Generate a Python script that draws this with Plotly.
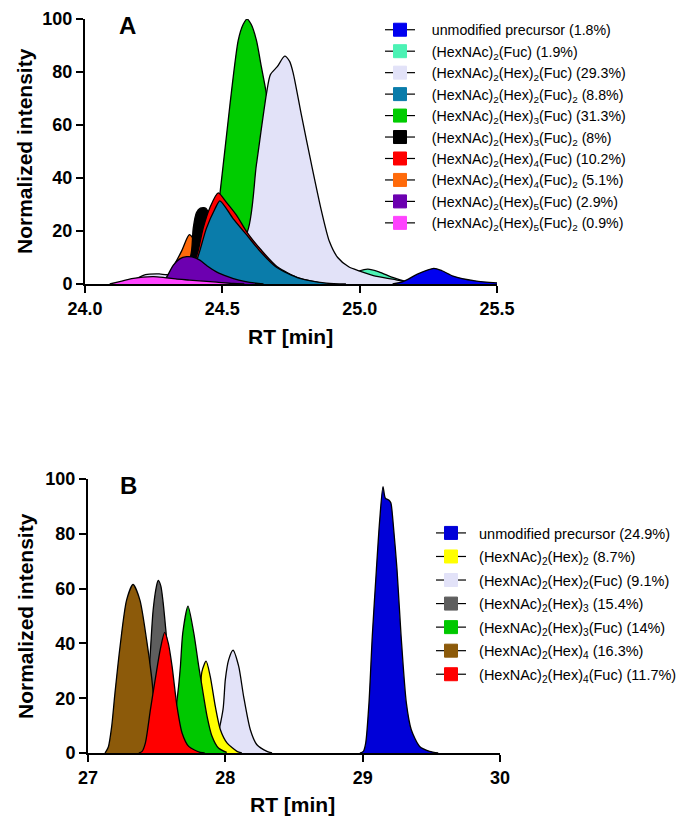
import plotly.graph_objects as go

# ---------------- Panel A data (RT in min, normalized intensity) ----------------
a_names = [
    "unmodified precursor (1.8%)",
    "(HexNAc)<sub>2</sub>(Fuc) (1.9%)",
    "(HexNAc)<sub>2</sub>(Hex)<sub>2</sub>(Fuc) (29.3%)",
    "(HexNAc)<sub>2</sub>(Hex)<sub>2</sub>(Fuc)<sub>2</sub> (8.8%)",
    "(HexNAc)<sub>2</sub>(Hex)<sub>3</sub>(Fuc) (31.3%)",
    "(HexNAc)<sub>2</sub>(Hex)<sub>3</sub>(Fuc)<sub>2</sub> (8%)",
    "(HexNAc)<sub>2</sub>(Hex)<sub>4</sub>(Fuc) (10.2%)",
    "(HexNAc)<sub>2</sub>(Hex)<sub>4</sub>(Fuc)<sub>2</sub> (5.1%)",
    "(HexNAc)<sub>2</sub>(Hex)<sub>5</sub>(Fuc) (2.9%)",
    "(HexNAc)<sub>2</sub>(Hex)<sub>5</sub>(Fuc)<sub>2</sub> (0.9%)",
]
a_colors = ["#0000F0", "#4CF2B4", "#E2E2F8", "#0A7CAA", "#00CC00",
            "#000000", "#FF0000", "#FF6A0A", "#6C00B0", "#FF44FF"]

a_unmod_x = [25.12, 25.16, 25.21, 25.27, 25.30, 25.34, 25.42, 25.50]
a_unmod_y = [0, 1.0, 3.7, 5.9, 5.0, 3.0, 1.2, 0.4]
a_fuc_x = [24.88, 24.95, 25.0, 25.03, 25.07, 25.12, 25.17, 25.22]
a_fuc_y = [0, 2.5, 5.0, 5.6, 4.6, 2.5, 0.9, 0]
a_h2f_x = [24.15, 24.22, 24.27, 24.30, 24.40, 24.50, 24.588, 24.624, 24.661, 24.675,
           24.70, 24.727, 24.745, 24.758, 24.788, 24.824, 24.86, 24.89, 24.92, 24.96,
           25.0, 25.05, 25.12, 25.18, 25.25]
a_h2f_y = [0, 3.5, 3.8, 3.5, 6, 12, 19, 45, 72, 79, 82, 86, 84, 79.6, 63.7, 45.4,
           28, 16, 10, 6.5, 4.9, 3.2, 1.8, 0.6, 0]
a_h2f2_x = [24.38, 24.418, 24.442, 24.473, 24.491, 24.539, 24.588, 24.636, 24.697,
            24.782, 24.879, 24.95]
a_h2f2_y = [0, 12.5, 21, 28.3, 31.4, 24.7, 18.6, 12.5, 6.3, 2.1, 0.3, 0]
a_h3f_x = [24.40, 24.46, 24.493, 24.527, 24.558, 24.576, 24.59, 24.605, 24.624,
           24.642, 24.66, 24.70, 24.75, 24.80]
a_h3f_y = [0, 10, 35.6, 67, 92, 98, 100, 98, 92, 82, 72, 40, 12, 0]
a_h3f2_x = [24.34, 24.37, 24.388, 24.394, 24.406, 24.42, 24.44, 24.46, 24.48, 24.52]
a_h3f2_y = [0, 5, 12.5, 21, 27, 28.6, 28.6, 24, 15, 3]
a_h4f_x = [24.36, 24.40, 24.412, 24.43, 24.455, 24.485, 24.515, 24.552, 24.59,
           24.64, 24.70, 24.78, 24.88]
a_h4f_y = [0, 8.8, 12.5, 21, 28.9, 34.4, 30.8, 25.9, 19.5, 13, 6.5, 2.2, 0]
a_h4f2_x = [24.28, 24.303, 24.327, 24.352, 24.38, 24.40, 24.42, 24.45, 24.48]
a_h4f2_y = [0, 3.3, 7.6, 12.5, 18.6, 16, 10, 4, 0]
a_h5f_x = [24.28, 24.297, 24.321, 24.345, 24.37, 24.39, 24.418, 24.445, 24.48,
           24.52, 24.56, 24.60, 24.65]
a_h5f_y = [0, 2.5, 7.0, 9.5, 10.3, 10.2, 9, 6.8, 4.5, 2.8, 1.5, 0.6, 0]
a_h5f2_x = [24.09, 24.13, 24.17, 24.21, 24.25, 24.29, 24.33, 24.38, 24.43, 24.48,
            24.54, 24.58]
a_h5f2_y = [0, 1.0, 2.0, 2.6, 2.8, 2.4, 1.9, 1.5, 1.1, 0.7, 0.2, 0]

a_series_x = [a_unmod_x, a_fuc_x, a_h2f_x, a_h2f2_x, a_h3f_x, a_h3f2_x, a_h4f_x,
              a_h4f2_x, a_h5f_x, a_h5f2_x]
a_series_y = [a_unmod_y, a_fuc_y, a_h2f_y, a_h2f2_y, a_h3f_y, a_h3f2_y, a_h4f_y,
              a_h4f2_y, a_h5f_y, a_h5f2_y]
# back-to-front drawing order (indices into the lists above)
a_draw_order = [1, 4, 2, 7, 5, 6, 3, 8, 9, 0]

# ---------------- Panel B data ----------------
b_names = [
    "unmodified precursor (24.9%)",
    "(HexNAc)<sub>2</sub>(Hex)<sub>2</sub> (8.7%)",
    "(HexNAc)<sub>2</sub>(Hex)<sub>2</sub>(Fuc) (9.1%)",
    "(HexNAc)<sub>2</sub>(Hex)<sub>3</sub> (15.4%)",
    "(HexNAc)<sub>2</sub>(Hex)<sub>3</sub>(Fuc) (14%)",
    "(HexNAc)<sub>2</sub>(Hex)<sub>4</sub> (16.3%)",
    "(HexNAc)<sub>2</sub>(Hex)<sub>4</sub>(Fuc) (11.7%)",
]
b_colors = ["#0000D8", "#FFFF00", "#E2E2F8", "#5E5E5E", "#00C800", "#8C5A0A", "#FF0000"]

b_unmod_x = [28.98, 29.005, 29.022, 29.046, 29.07, 29.10, 29.124, 29.148, 29.165,
             29.19, 29.205, 29.22, 29.25, 29.28, 29.318, 29.354, 29.415, 29.487, 29.55]
b_unmod_y = [0, 0.6, 3.6, 18.3, 42.6, 67, 85, 97.2, 93, 92.3, 91.3, 85, 67, 42.6,
             18.3, 8.5, 2.4, 0.6, 0]
b_h2_x = [27.75, 27.80, 27.83, 27.86, 27.89, 27.927, 27.964, 28.012, 28.085, 28.12]
b_h2_y = [0, 12, 29.8, 33.5, 28, 17, 8.5, 3.7, 0.6, 0]
b_h2f_x = [27.88, 27.93, 27.983, 28.0, 28.024, 28.056, 28.097, 28.133, 28.182,
           28.23, 28.303, 28.34]
b_h2f_y = [0, 4, 15.8, 26.8, 34, 37.5, 31.7, 20.7, 8.5, 3, 0.6, 0]
b_h3_x = [27.33, 27.38, 27.42, 27.45, 27.474, 27.499, 27.511, 27.53, 27.547, 27.58,
          27.62, 27.66, 27.70, 27.75]
b_h3_y = [0, 6, 18, 34, 52, 61, 63, 61, 55, 38, 20, 8, 2, 0]
b_h3f_x = [27.58, 27.62, 27.645, 27.66, 27.673, 27.69, 27.728, 27.77, 27.806,
           27.83, 27.867, 27.903, 27.95, 28.01]
b_h3f_y = [0, 8, 18, 24.4, 31.7, 43.8, 53.6, 43.8, 31.7, 24.4, 13.4, 6.1, 1.8, 0.2]
b_h4_x = [27.124, 27.148, 27.172, 27.196, 27.233, 27.281, 27.328, 27.378, 27.427,
          27.463, 27.487, 27.511, 27.548]
b_h4_y = [0, 2.2, 9.5, 21.7, 38.7, 55.8, 61.5, 55.8, 41.2, 27.8, 15.6, 5.8, 0.4]
b_h4f_x = [27.37, 27.394, 27.418, 27.455, 27.49, 27.527, 27.558, 27.585, 27.612,
           27.648, 27.685, 27.733, 27.818, 27.85]
b_h4f_y = [0, 0.6, 3.7, 16, 27, 38, 44, 40, 31.7, 17, 7.3, 2.4, 0.2, 0]

b_series_x = [b_unmod_x, b_h2_x, b_h2f_x, b_h3_x, b_h3f_x, b_h4_x, b_h4f_x]
b_series_y = [b_unmod_y, b_h2_y, b_h2f_y, b_h3_y, b_h3f_y, b_h4_y, b_h4f_y]
b_draw_order = [3, 5, 2, 1, 4, 6, 0]

y_ticks = [0, 20, 40, 60, 80, 100]
a_x_ticks = [24.0, 24.5, 25.0, 25.5]
b_x_ticks = [27, 28, 29, 30]

FONT = "Liberation Sans, Arial, sans-serif"
W, H = 686, 820
OFF = 8  # page body margin in the browser
NB = "\u00a0"

fig = go.Figure()


def add_panel(names, colors, xs, ys, order, xa, ya, legend, pad):
    for i in order:
        fig.add_trace(go.Scatter(
            x=xs[i], y=ys[i], mode="lines", fill="tozeroy",
            fillcolor=colors[i], line=dict(color="black", width=1.3, shape="spline",
                                           smoothing=0.7),
            showlegend=False, hoverinfo="skip", xaxis=xa, yaxis=ya))
    for rank, (nm, col) in enumerate(zip(names, colors)):
        fig.add_trace(go.Scatter(
            x=[None], y=[None], mode="lines+markers", name=NB * pad + nm,
            line=dict(color="black", width=1.2),
            marker=dict(symbol="square", size=13, color=col,
                        line=dict(color=col, width=1)),
            legend=legend, legendgroup=legend + str(rank), legendrank=rank + 1,
            xaxis=xa, yaxis=ya))


add_panel(a_names, a_colors, a_series_x, a_series_y, a_draw_order, "x", "y", "legend", 3)
add_panel(b_names, b_colors, b_series_x, b_series_y, b_draw_order, "x2", "y2", "legend2", 2)


def px_x(p):
    return (p - OFF) / W


def px_y(p):
    return 1 - (p - OFF) / H


axis_common = dict(showline=True, linecolor="black", linewidth=2, ticks="outside",
                   ticklen=7, tickwidth=2, tickcolor="black", showgrid=False,
                   zeroline=False, automargin=False, ticklabeloverflow="allow",
                   tickfont=dict(family=FONT, size=18, color="black", weight="bold"))

fig.update_layout(
    width=W, height=H, autosize=False,
    margin=dict(l=0, r=0, t=0, b=0),
    paper_bgcolor="white", plot_bgcolor="white",
    font=dict(family=FONT, color="black"),
    xaxis=dict(domain=[px_x(85), px_x(497)], range=[24.0, 25.5], tickvals=a_x_ticks,
               tickformat=".1f", anchor="y", **axis_common),
    yaxis=dict(domain=[px_y(284), px_y(19)], range=[0, 100], tickvals=y_ticks,
               anchor="x", **axis_common),
    xaxis2=dict(domain=[px_x(88), px_x(500)], range=[27, 30], tickvals=b_x_ticks,
                anchor="y2", **axis_common),
    yaxis2=dict(domain=[px_y(753), px_y(479)], range=[0, 100], tickvals=y_ticks,
                anchor="x2", **axis_common),
    legend=dict(x=px_x(380), y=px_y(14), xanchor="left", yanchor="top",
                bgcolor="rgba(0,0,0,0)", traceorder="grouped", tracegroupgap=0,
                font=dict(family=FONT, size=14.2, color="black"), itemwidth=30),
    legend2=dict(x=px_x(431), y=px_y(517), xanchor="left", yanchor="top",
                 bgcolor="rgba(0,0,0,0)", traceorder="grouped", tracegroupgap=1.7,
                 font=dict(family=FONT, size=14.5, color="black"), itemwidth=30),
)

title_font = dict(family=FONT, size=21, color="black", weight="bold")
annos = [
    dict(text="Normalized intensity", x=px_x(25), y=px_y(151), textangle=-90),
    dict(text="Normalized intensity", x=px_x(25), y=px_y(616), textangle=-90),
    dict(text="RT [min]", x=px_x(290), y=px_y(336)),
    dict(text="RT [min]", x=px_x(292), y=px_y(804)),
]
for a in annos:
    fig.add_annotation(xref="paper", yref="paper", showarrow=False,
                       xanchor="center", yanchor="middle", font=title_font, **a)
for txt, xx, yy in [("A", 127, 25), ("B", 128, 486)]:
    fig.add_annotation(xref="paper", yref="paper", showarrow=False, text=txt,
                       x=px_x(xx), y=px_y(yy), xanchor="center", yanchor="middle",
                       font=dict(family=FONT, size=24, color="black", weight="bold"))

fig.write_html("out.html")
